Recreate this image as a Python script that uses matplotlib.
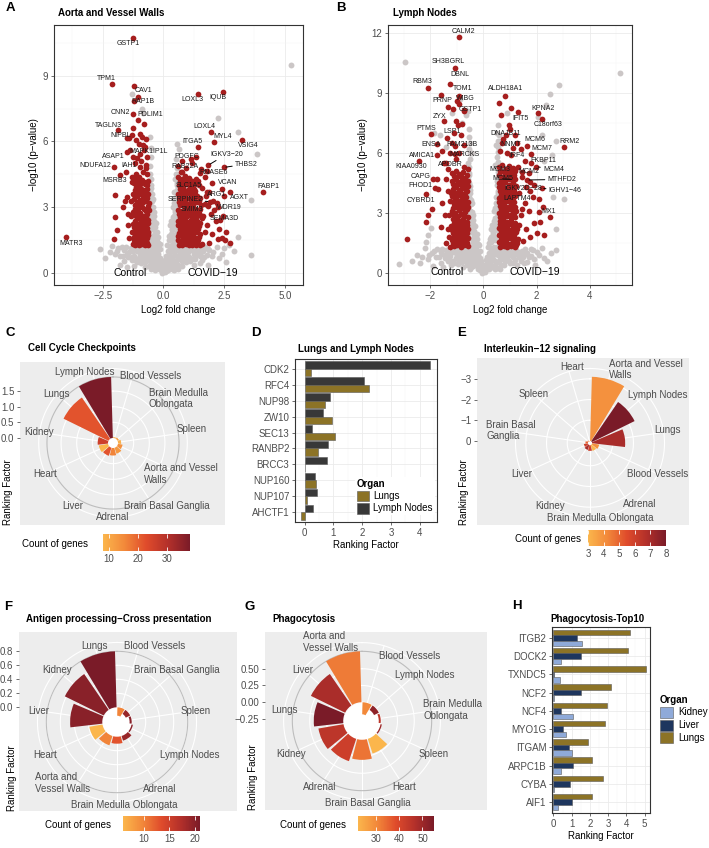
import numpy as np
import matplotlib
matplotlib.use('Agg')
import matplotlib.pyplot as plt
from matplotlib.colors import LinearSegmentedColormap, Normalize
from matplotlib.cm import ScalarMappable
from matplotlib.patches import Patch
from matplotlib.ticker import MultipleLocator
from matplotlib.transforms import ScaledTranslation

plt.rcParams['font.family'] = ['Liberation Sans', 'DejaVu Sans']

# ---------------------------------------------------------------- data
# Panel A: Aorta and Vessel Walls volcano
a_genes = ['GSTP1', 'TPM1', 'CAV1', 'RAP1B', 'CNN2', 'PDLIM1', 'TAGLN3', 'NIPBL', 'MAPK1IP1L', 'ASAP1',
           'NDUFA12', 'IAH1', 'MSRB3', 'MATR3', 'LOXL3', 'IQUB', 'LOXL4', 'MYL4', 'VSIG4', 'ITGA5',
           'PDGFC', 'IGKV3−20', 'THBS2', 'RAB22A', 'RNASE6', 'SLC1A5', 'VCAN', 'FABP1', 'ARG1', 'AGXT',
           'SERPINE2', 'WDR19', 'SMIM3', 'SEMA3D']
a_gene_fc = [-1.23, -2.11, -1.21, -1.03, -1.23, -1.03, -1.85, -1.51, -0.75, -1.51,
             -2.05, -1.53, -1.78, -4.0, 1.44, 2.47, 1.95, 2.08, 3.22, 1.44,
             1.16, 1.85, 2.49, 0.75, 1.51, 0.75, 2.40, 4.11, 1.78, 2.74,
             1.92, 2.26, 1.35, 2.33]
a_gene_p = [10.71, 8.62, 8.52, 8.03, 7.27, 7.0, 6.52, 6.14, 5.75, 5.53,
            4.82, 4.62, 4.47, 1.64, 8.18, 8.26, 6.44, 5.98, 6.09, 5.76,
            5.2, 4.92, 4.82, 4.62, 4.58, 3.94, 3.83, 3.71, 3.71, 3.71,
            3.26, 3.03, 2.75, 2.42]
a_sig = [(-1.22, 4.1), (-1.1, 4.2), (-0.95, 4.05), (-0.8, 4.15), (-0.68, 4.0),
         (-1.18, 3.8), (-1.05, 3.7), (-0.9, 3.85), (-0.75, 3.75), (-0.63, 3.6),
         (-1.2, 3.4), (-1.08, 3.5), (-0.98, 3.35), (-0.85, 3.45), (-0.7, 3.3),
         (-1.15, 3.1), (-1.02, 3.0), (-0.92, 3.15), (-0.78, 2.95), (-0.65, 3.05),
         (-1.23, 2.8), (-1.1, 2.7), (-0.96, 2.75), (-0.83, 2.6), (-0.69, 2.7),
         (-1.17, 2.4), (-1.04, 2.5), (-0.9, 2.35), (-0.76, 2.45), (-0.62, 2.3),
         (-1.2, 2.1), (-1.07, 2.0), (-0.94, 2.15), (-0.8, 1.95), (-0.67, 2.05),
         (-1.14, 1.8), (-1.0, 1.7), (-0.87, 1.85), (-0.73, 1.65), (-0.64, 1.75),
         (-1.22, 1.5), (-1.09, 1.4), (-0.97, 1.55), (-0.84, 1.35), (-0.7, 1.45),
         (-1.16, 1.3), (-1.02, 1.28), (-0.9, 1.32), (-0.77, 1.3), (-0.63, 1.3),
         (-1.3, 4.4), (-1.12, 4.5), (-0.85, 4.6), (-0.72, 4.8), (-1.0, 4.4), (-0.66, 4.5),
         (-1.28, 1.9), (-1.35, 2.6), (-1.32, 3.3), (-1.4, 1.6), (-1.45, 2.2),
         (-1.16, 4.3), (-1.03, 4.1), (-0.88, 4.25), (-0.74, 4.05), (-0.61, 4.2),
         (-1.12, 3.95), (-0.98, 3.9), (-0.83, 3.8), (-0.69, 3.85),
         (-1.25, 3.6), (-1.13, 3.6), (-0.93, 3.6), (-0.78, 3.55), (-0.66, 3.45),
         (-1.1, 3.25), (-0.96, 3.2), (-0.82, 3.25), (-0.6, 3.2),
         (-1.18, 2.95), (-1.05, 2.85), (-0.88, 3.0), (-0.73, 2.85), (-0.6, 2.9),
         (-1.14, 2.6), (-1.0, 2.6), (-0.86, 2.5), (-0.72, 2.55), (-0.65, 2.45),
         (-1.24, 2.25), (-1.1, 2.25), (-0.97, 2.3), (-0.84, 2.2), (-0.7, 2.2),
         (-1.17, 1.95), (-1.04, 1.85), (-0.9, 2.0), (-0.77, 1.8), (-0.61, 1.9),
         (-1.19, 1.65), (-1.05, 1.55), (-0.92, 1.7), (-0.79, 1.5), (-0.66, 1.6),
         (-1.12, 1.4), (-0.95, 1.42), (-0.81, 1.45), (-0.68, 1.38), (-1.25, 1.35),
         (-1.26, 6.6), (-0.96, 6.36), (-0.78, 6.8), (-1.3, 6.29), (-1.12, 6.06), (-1.4, 6.15),
         (-1.0, 5.9), (-0.96, 5.45), (-1.07, 5.25), (-1.25, 5.3), (-1.16, 5.0), (-0.96, 4.85),
         (-1.3, 4.17), (-1.99, 3.56), (-1.5, 3.48), (-1.56, 3.3), (-1.64, 3.03), (-1.99, 2.58),
         (-1.92, 1.97), (-2.01, 1.55), (-1.45, 2.7), (-0.8, 5.6), (-0.68, 5.3), (-0.88, 6.2),
         (-0.72, 6.1), (-0.9, 5.1), (-0.7, 4.95), (-1.38, 5.6), (-1.2, 7.85), (-0.85, 5.85),
         (0.62, 4.4), (0.75, 4.3), (0.9, 4.45), (1.05, 4.35), (1.2, 4.2), (1.35, 4.3),
         (0.65, 4.0), (0.8, 3.9), (0.95, 4.05), (1.1, 3.95), (1.25, 3.85), (1.45, 4.0),
         (0.6, 3.6), (0.72, 3.7), (0.88, 3.55), (1.02, 3.65), (1.18, 3.5), (1.32, 3.6), (1.5, 3.45),
         (0.66, 3.25), (0.8, 3.3), (0.93, 3.15), (1.08, 3.2), (1.22, 3.1), (1.38, 3.25), (1.55, 3.1),
         (0.62, 2.9), (0.76, 2.85), (0.9, 2.95), (1.04, 2.8), (1.18, 2.9), (1.3, 2.75), (1.45, 2.85),
         (0.68, 2.55), (0.82, 2.5), (0.97, 2.6), (1.12, 2.45), (1.26, 2.55), (1.4, 2.4), (1.58, 2.5),
         (0.61, 2.2), (0.74, 2.15), (0.88, 2.25), (1.02, 2.1), (1.16, 2.2), (1.3, 2.05), (1.48, 2.15),
         (0.65, 1.85), (0.79, 1.9), (0.94, 1.8), (1.08, 1.85), (1.22, 1.75), (1.36, 1.9), (1.52, 1.8),
         (0.6, 1.5), (0.73, 1.45), (0.87, 1.55), (1.0, 1.4), (1.14, 1.5), (1.28, 1.42), (1.44, 1.5),
         (0.64, 1.3), (0.78, 1.3), (0.92, 1.32), (1.06, 1.28), (1.2, 1.3), (1.34, 1.3), (1.5, 1.3),
         (0.68, 4.2), (0.82, 4.1), (0.98, 4.25), (1.12, 4.1), (1.28, 4.05), (1.42, 4.2),
         (0.7, 3.85), (0.85, 3.75), (1.0, 3.8), (1.15, 3.7), (1.3, 3.75), (1.4, 3.5),
         (0.64, 3.45), (0.78, 3.5), (0.95, 3.4), (1.1, 3.45), (1.25, 3.35), (1.46, 3.3),
         (0.7, 3.1), (0.86, 3.05), (1.0, 3.0), (1.15, 3.05), (1.3, 2.95), (1.5, 2.95),
         (0.66, 2.7), (0.8, 2.72), (0.95, 2.8), (1.1, 2.65), (1.24, 2.7), (1.38, 2.6), (1.52, 2.65),
         (0.62, 2.4), (0.77, 2.35), (0.92, 2.4), (1.06, 2.3), (1.2, 2.38), (1.35, 2.25), (1.5, 2.3),
         (0.69, 2.0), (0.84, 2.05), (0.99, 1.95), (1.13, 2.0), (1.27, 1.95), (1.42, 2.0),
         (0.62, 1.68), (0.76, 1.7), (0.9, 1.65), (1.05, 1.6), (1.18, 1.65), (1.32, 1.6), (1.47, 1.65),
         (0.68, 1.4), (0.83, 1.4), (0.96, 1.45), (1.1, 1.38), (1.24, 1.4), (1.38, 1.45),
         (0.62, 4.9), (0.75, 5.1), (0.95, 4.8), (0.72, 4.6), (1.7, 4.4), (1.6, 3.9), (1.75, 3.5),
         (1.9, 3.7), (2.05, 3.3), (1.85, 3.05), (2.2, 3.2), (1.95, 2.7), (2.15, 2.4), (2.3, 2.0),
         (1.8, 2.2), (1.7, 1.9), (2.0, 1.8), (2.4, 1.6), (2.55, 1.5), (2.75, 1.4), (2.25, 1.55),
         (1.9, 1.4), (1.65, 2.6), (1.72, 3.15), (2.1, 2.9), (2.45, 2.6), (2.6, 1.9), (1.6, 1.35),
         (1.78, 4.65), (1.2, 5.0), (1.35, 5.3), (2.5, 3.5), (2.0, 4.1), (1.55, 4.75)]
a_gray = [(-0.05, 0.02), (0.05, 0.05), (-0.1, 0.15), (0.12, 0.12), (-0.2, 0.3), (0.2, 0.25), (-0.3, 0.4),
          (0.3, 0.45), (-0.15, 0.5), (0.15, 0.55), (-0.4, 0.6), (0.4, 0.6), (-0.25, 0.7), (0.28, 0.8),
          (-0.5, 0.8), (0.5, 0.85), (-0.35, 0.95), (0.38, 1.0), (-0.6, 1.0), (0.62, 1.05), (-0.45, 1.1),
          (0.48, 1.15), (-0.7, 1.2), (0.72, 1.2), (-0.8, 0.9), (0.85, 0.95), (-0.9, 1.1), (0.95, 1.1),
          (-1.0, 0.7), (1.05, 0.75), (-1.1, 1.0), (1.15, 1.05), (-1.2, 0.8), (1.25, 0.9), (-1.35, 1.15),
          (1.4, 1.1), (-1.5, 0.9), (1.55, 0.95), (-1.7, 1.2), (1.7, 1.2), (-1.9, 1.0), (1.9, 1.05),
          (-0.75, 0.5), (0.78, 0.55), (-0.6, 0.35), (0.62, 0.4), (-0.5, 0.2), (0.5, 0.25), (-1.3, 0.6),
          (1.3, 0.65), (2.2, 1.2), (2.4, 0.9), (-2.1, 1.25), (3.63, 0.83), (2.0, 0.8), (-1.6, 0.55),
          (1.6, 0.6), (-0.9, 0.45), (0.95, 0.5), (-0.35, 0.15), (0.35, 0.2), (-0.2, 1.4), (0.22, 1.5),
          (-0.3, 1.7), (0.3, 1.8), (-0.35, 2.1), (0.36, 2.0), (-0.4, 2.4), (0.42, 2.3), (-0.45, 2.7),
          (0.45, 2.6), (-0.5, 3.0), (0.5, 2.9), (-0.48, 3.3), (0.52, 3.2), (-0.55, 3.6), (0.55, 3.5),
          (-0.52, 3.9), (0.56, 3.8), (-0.57, 4.2), (0.58, 4.1), (-0.55, 4.5), (0.55, 4.4), (-0.56, 4.9),
          (0.57, 4.8), (-0.5, 5.3), (0.53, 5.2), (-0.25, 1.9), (0.27, 2.2), (-0.38, 2.8), (0.4, 3.0),
          (-0.44, 3.4), (0.46, 3.7), (-0.5, 4.0), (0.5, 4.3), (-0.4, 1.5), (0.42, 1.6), (-0.5, 2.0),
          (0.5, 2.1), (-0.55, 2.5), (0.55, 2.5), (-0.58, 1.8), (0.58, 1.9), (-0.58, 3.0), (0.58, 3.0),
          (-0.52, 5.7), (0.55, 5.9), (0.64, 5.68), (5.27, 9.47), (2.26, 7.09), (3.08, 6.44),
          (3.84, 5.42), (3.63, 3.33), (3.08, 1.67), (-1.3, 8.14), (-0.89, 7.5), (-0.55, 6.2),
          (2.7, 1.3), (2.9, 1.0), (-0.85, 7.3), (-2.4, 0.7), (2.6, 0.5), (-1.8, 0.4), (1.85, 0.4),
          (-0.08, 0.3), (0.08, 0.35), (-0.18, 0.45), (0.18, 0.4), (-0.25, 0.55), (0.25, 0.6),
          (-0.35, 0.75), (0.35, 0.7), (-0.45, 0.9), (0.45, 0.95), (-0.55, 1.1), (0.55, 1.05),
          (-0.65, 1.25), (0.65, 1.25), (-0.2, 0.9), (0.2, 1.0), (-0.3, 1.2), (0.3, 1.25), (-0.15, 1.1),
          (0.12, 0.8), (-0.1, 0.6), (0.1, 0.65), (-0.4, 0.35), (0.42, 0.35), (-0.55, 0.55), (0.58, 0.6),
          (-0.7, 0.75), (0.72, 0.8), (-0.85, 0.7), (0.88, 0.75), (-0.95, 0.9), (1.0, 0.95), (-1.05, 1.2),
          (1.1, 1.22), (-0.75, 1.0), (0.8, 1.05), (-0.65, 0.6), (0.68, 0.7), (-1.15, 0.6), (1.2, 0.65),
          (-1.25, 1.0), (1.3, 1.05), (-1.45, 0.75), (1.5, 0.8), (-1.6, 1.05), (1.65, 1.0), (-1.8, 0.8),
          (1.8, 0.85), (-0.28, 1.45), (0.3, 1.55), (-0.35, 1.9), (0.36, 1.95), (-0.42, 2.2),
          (0.43, 2.15), (-0.47, 2.5), (0.48, 2.45), (-0.5, 2.75), (0.5, 2.8), (-0.53, 3.15),
          (0.54, 3.1), (-0.56, 3.45), (0.56, 3.35), (-0.55, 3.75), (0.57, 3.65), (-0.58, 4.05),
          (0.55, 4.0), (-0.45, 1.7), (0.45, 1.75), (-0.52, 2.25), (0.52, 2.3), (-0.56, 2.75),
          (0.56, 2.7), (-0.35, 1.45), (0.36, 1.3), (-0.47, 1.35), (0.5, 1.4), (-0.58, 1.5),
          (0.58, 1.55), (-0.58, 2.2), (0.58, 2.25),
          (-0.02, 0.2), (0.03, 0.12), (-0.07, 0.4), (0.07, 0.45), (-0.12, 0.7), (0.14, 0.72),
          (-0.22, 0.6), (0.23, 0.5), (-0.28, 0.95), (0.26, 1.1), (-0.33, 0.55), (0.33, 0.3),
          (-0.38, 1.3), (0.4, 1.35), (-0.48, 0.5), (0.47, 0.45), (-0.52, 1.25), (0.53, 1.3),
          (-0.62, 0.85), (0.63, 0.8), (-0.68, 1.05), (0.7, 1.0), (-0.78, 0.75), (0.8, 0.8),
          (-0.88, 1.2), (0.9, 1.2), (-0.92, 0.6), (0.93, 0.65), (-1.0, 1.05), (1.02, 1.0),
          (-1.08, 0.5), (1.1, 0.55), (-1.18, 1.15), (1.2, 1.2), (-1.28, 0.75), (1.32, 0.8),
          (-1.4, 0.95), (1.42, 0.9), (-1.52, 1.2), (1.55, 1.2), (-1.65, 0.8), (1.68, 0.75),
          (-1.85, 1.15), (1.85, 1.1), (-2.0, 0.9), (2.05, 0.95), (-0.15, 1.35), (0.17, 1.3),
          (-0.22, 1.65), (0.24, 1.7), (-0.3, 2.3), (0.32, 2.4), (-0.4, 2.6), (0.38, 2.55),
          (-0.42, 3.0), (0.44, 3.2), (-0.47, 3.6), (0.48, 3.45), (-0.5, 4.3), (0.52, 4.5),
          (-0.3, 1.1), (0.28, 0.95), (-0.18, 0.2), (0.2, 0.15), (-0.6, 0.7), (0.6, 0.2),
          (-0.75, 0.3), (0.75, 0.35), (-1.2, 0.35), (1.25, 0.4), (-1.5, 0.3), (1.5, 0.45),
          (-0.45, 0.3), (0.44, 0.15), (-0.85, 1.0), (0.86, 1.15), (-0.97, 0.8), (0.98, 0.85),
          (-0.7, 0.9), (0.68, 0.9), (2.3, 0.7), (-2.2, 0.95), (2.5, 1.15), (-2.6, 1.1)]

# Panel B: Lymph Nodes volcano
b_genes = ['CALM2', 'SH3BGRL', 'DBNL', 'RBM3', 'TOM1', 'PRNP', 'WIBG', 'GSTP1', 'ZYX', 'PTMS',
           'LSP1', 'ENSA', 'FAM213B', 'AMICA1', 'MARCKS', 'KIAA0930', 'APOBR', 'CAPG', 'FHOD1', 'CYBRD1',
           'ALDH18A1', 'KPNA2', 'IFIT5', 'C18orf63', 'DNAJB11', 'RRM2', 'MCM6', 'NNMT', 'MCM7', 'IRF4',
           'FKBP11', 'MCM3', 'MCM2', 'MCM4', 'MCM5', 'MTHFD2', 'IGKV2D−28', 'IGHV1−46', 'LAPTM4', 'MX1']
b_gene_fc = [-0.92, -1.09, -1.26, -2.11, -0.92, -1.61, -0.92, -0.73, -1.47, -1.97,
             -1.38, -1.74, -1.07, -1.76, -1.07, -2.45, -1.41, -1.91, -1.82, -2.16,
             0.82, 2.05, 1.32, 2.20, 0.75, 3.02, 1.64, 1.13, 1.80, 1.04,
             1.81, 0.94, 1.45, 1.99, 1.13, 1.64, 1.76, 2.20, 1.74, 2.08]
b_gene_p = [11.79, 10.25, 9.45, 9.25, 8.83, 8.88, 8.46, 8.16, 7.58, 6.94,
            6.77, 6.44, 6.37, 5.90, 5.94, 5.59, 5.48, 4.70, 4.23, 3.93,
            8.83, 7.99, 8.03, 7.69, 6.71, 6.32, 6.37, 6.27, 5.94, 5.90,
            5.48, 5.15, 5.07, 5.32, 4.68, 4.65, 4.57, 4.23, 4.10, 3.06]
b_sig = [(-1.18, 5.0), (-1.05, 5.1), (-0.92, 4.95), (-0.78, 5.05), (-0.64, 4.9),
         (-1.2, 4.6), (-1.08, 4.7), (-0.95, 4.55), (-0.82, 4.65), (-0.68, 4.5), (-0.58, 4.6),
         (-1.15, 4.2), (-1.02, 4.3), (-0.88, 4.15), (-0.75, 4.25), (-0.62, 4.1),
         (-1.19, 3.85), (-1.06, 3.75), (-0.93, 3.9), (-0.8, 3.7), (-0.66, 3.8),
         (-1.13, 3.45), (-1.0, 3.5), (-0.86, 3.35), (-0.72, 3.45), (-0.6, 3.3),
         (-1.2, 3.1), (-1.07, 3.0), (-0.94, 3.15), (-0.81, 2.95), (-0.68, 3.05),
         (-1.16, 2.7), (-1.03, 2.75), (-0.9, 2.6), (-0.77, 2.7), (-0.63, 2.55),
         (-1.21, 2.35), (-1.09, 2.3), (-0.96, 2.4), (-0.83, 2.25), (-0.7, 2.35), (-0.59, 2.2),
         (-1.14, 2.0), (-1.01, 1.95), (-0.87, 2.05), (-0.74, 1.9), (-0.61, 2.0),
         (-1.18, 1.65), (-1.05, 1.7), (-0.92, 1.6), (-0.79, 1.7), (-0.66, 1.6),
         (-1.12, 1.35), (-0.99, 1.4), (-0.86, 1.32), (-0.73, 1.38), (-0.6, 1.33),
         (-1.12, 4.85), (-0.98, 4.8), (-0.85, 4.85), (-0.71, 4.75), (-0.6, 5.2),
         (-1.14, 4.45), (-1.0, 4.45), (-0.86, 4.4), (-0.72, 4.35), (-0.6, 4.35),
         (-1.08, 4.0), (-0.95, 4.05), (-0.82, 3.95), (-0.69, 4.0), (-1.22, 4.0),
         (-1.12, 3.6), (-0.98, 3.65), (-0.84, 3.55), (-0.7, 3.6), (-0.58, 3.55),
         (-1.16, 3.25), (-1.02, 3.3), (-0.88, 3.2), (-0.76, 3.25), (-0.63, 3.2),
         (-1.1, 2.9), (-0.97, 2.85), (-0.85, 2.95), (-0.72, 2.85), (-0.6, 2.8),
         (-1.12, 2.5), (-0.99, 2.55), (-0.86, 2.45), (-0.74, 2.5), (-0.62, 2.4),
         (-1.17, 2.15), (-1.04, 2.15), (-0.91, 2.2), (-0.78, 2.1), (-0.66, 2.15),
         (-1.1, 1.8), (-0.96, 1.82), (-0.83, 1.85), (-0.7, 1.78), (-0.58, 1.75),
         (-1.16, 1.5), (-1.02, 1.52), (-0.89, 1.48), (-0.76, 1.52), (-0.63, 1.48),
         (-1.3, 2.9), (-1.35, 2.2), (-1.28, 3.6), (-1.4, 1.5), (-1.32, 4.1), (-1.25, 1.3),
         (-2.89, 1.72), (-2.16, 2.56), (-1.95, 3.18), (-1.7, 4.2), (-1.55, 3.5), (-1.45, 2.9),
         (-1.6, 2.3), (-1.3, 1.8), (-1.4, 4.7), (-1.35, 5.2), (-1.5, 5.5), (-1.25, 6.0),
         (-1.2, 6.5), (-1.1, 7.0), (-1.05, 7.6), (-0.95, 7.4), (-0.8, 7.45), (-0.85, 6.9),
         (-0.75, 6.4), (-0.92, 6.0), (-1.05, 5.7), (-0.75, 5.3), (-1.15, 8.2), (-0.72, 8.1),
         (-1.35, 8.3), (-1.55, 6.1), (-1.0, 8.6), (-1.75, 4.7), (-2.1, 2.9),
         (0.58, 5.3), (0.7, 5.4), (0.85, 5.2), (0.98, 5.35), (1.12, 5.25),
         (0.6, 4.9), (0.74, 4.8), (0.88, 4.95), (1.02, 4.85), (1.16, 4.9),
         (0.57, 4.5), (0.69, 4.45), (0.83, 4.55), (0.97, 4.4), (1.1, 4.5), (1.22, 4.35),
         (0.62, 4.1), (0.76, 4.15), (0.9, 4.0), (1.04, 4.1), (1.18, 4.0),
         (0.58, 3.75), (0.71, 3.7), (0.85, 3.8), (0.99, 3.65), (1.13, 3.75),
         (0.63, 3.35), (0.77, 3.4), (0.91, 3.3), (1.05, 3.4), (1.2, 3.3),
         (0.59, 3.0), (0.72, 2.95), (0.86, 3.05), (1.0, 2.9), (1.14, 3.0),
         (0.61, 2.6), (0.75, 2.65), (0.89, 2.55), (1.03, 2.6), (1.17, 2.5),
         (0.57, 2.25), (0.7, 2.2), (0.84, 2.3), (0.98, 2.15), (1.12, 2.25), (1.25, 2.2),
         (0.6, 1.9), (0.74, 1.85), (0.88, 1.95), (1.02, 1.8), (1.16, 1.9),
         (0.58, 1.55), (0.72, 1.5), (0.86, 1.6), (1.0, 1.45), (1.14, 1.55), (1.28, 1.5),
         (0.62, 1.32), (0.76, 1.35), (0.9, 1.3), (1.04, 1.33), (1.18, 1.3),
         (0.64, 5.1), (0.78, 5.05), (0.92, 5.1), (1.06, 5.05), (1.18, 5.1),
         (0.66, 4.65), (0.8, 4.68), (0.95, 4.7), (1.08, 4.65), (1.2, 4.7),
         (0.6, 4.3), (0.74, 4.3), (0.88, 4.25), (1.02, 4.3), (1.15, 4.2),
         (0.65, 3.9), (0.8, 3.95), (0.94, 3.88), (1.08, 3.9), (1.2, 3.85),
         (0.6, 3.55), (0.74, 3.55), (0.88, 3.6), (1.02, 3.5), (1.16, 3.55),
         (0.66, 3.2), (0.8, 3.15), (0.94, 3.2), (1.08, 3.15), (1.22, 3.1),
         (0.62, 2.8), (0.76, 2.8), (0.9, 2.85), (1.04, 2.75), (1.18, 2.8),
         (0.64, 2.45), (0.78, 2.42), (0.92, 2.4), (1.06, 2.45), (1.2, 2.4),
         (0.65, 2.08), (0.8, 2.05), (0.94, 2.1), (1.08, 2.02), (1.22, 2.05),
         (0.66, 1.72), (0.8, 1.7), (0.94, 1.75), (1.08, 1.68), (1.22, 1.72),
         (0.68, 1.45), (0.82, 1.45), (0.96, 1.42), (1.1, 1.45), (1.24, 1.4),
         (0.65, 7.9), (0.6, 8.5), (1.05, 8.25), (0.95, 7.4), (0.85, 6.9), (0.7, 6.5),
         (0.62, 6.1), (0.9, 6.0), (1.25, 6.5), (1.4, 6.2), (1.55, 5.6), (1.3, 5.3),
         (1.7, 5.0), (1.45, 4.8), (1.9, 4.4), (1.6, 4.3), (1.35, 4.0), (1.85, 3.8),
         (2.14, 2.56), (2.52, 2.81), (2.24, 3.31), (1.76, 1.81), (1.6, 2.2), (1.4, 2.9),
         (1.9, 2.5), (1.7, 3.1), (2.0, 2.0), (1.5, 1.6), (2.3, 1.9), (1.55, 3.5),
         (2.1, 3.7), (1.2, 6.9), (1.0, 7.2), (1.35, 2.4), (1.3, 1.7), (1.45, 3.2)]
b_gray = [(-0.05, 0.02), (0.05, 0.05), (-0.12, 0.15), (0.12, 0.18), (-0.2, 0.3), (0.22, 0.3),
          (-0.32, 0.45), (0.3, 0.42), (-0.15, 0.55), (0.18, 0.6), (-0.42, 0.65), (0.42, 0.62),
          (-0.28, 0.8), (0.3, 0.85), (-0.52, 0.85), (0.55, 0.9), (-0.38, 1.0), (0.4, 1.05),
          (-0.65, 1.0), (0.66, 1.05), (-0.48, 1.15), (0.5, 1.2), (-0.75, 1.2), (0.78, 1.2),
          (-0.85, 0.95), (0.9, 0.95), (-0.95, 1.1), (1.0, 1.1), (-1.05, 0.75), (1.1, 0.8),
          (-1.15, 1.05), (1.2, 1.0), (-1.25, 0.85), (1.3, 0.9), (-1.4, 1.15), (1.45, 1.12),
          (-1.55, 0.95), (1.6, 0.95), (-1.75, 1.2), (1.8, 1.2), (-1.95, 1.0), (2.0, 1.05),
          (-0.8, 0.55), (0.82, 0.6), (-0.62, 0.38), (0.65, 0.4), (-0.5, 0.22), (0.5, 0.25),
          (-1.35, 0.6), (1.4, 0.6), (-2.2, 1.25), (2.2, 1.25), (-2.5, 0.9), (2.74, 1.14),
          (-3.17, 0.47), (-2.1, 0.7), (1.9, 0.7), (-1.6, 0.5), (1.65, 0.55), (-0.95, 0.45),
          (1.0, 0.5), (-0.2, 1.45), (0.22, 1.5), (-0.3, 1.75), (0.3, 1.8), (-0.36, 2.1),
          (0.36, 2.05), (-0.4, 2.45), (0.42, 2.4), (-0.45, 2.8), (0.45, 2.75), (-0.5, 3.1),
          (0.5, 3.05), (-0.48, 3.45), (0.52, 3.4), (-0.54, 3.8), (0.54, 3.75), (-0.52, 4.15),
          (0.56, 4.1), (-0.56, 4.5), (0.57, 4.45), (-0.54, 4.9), (0.55, 4.85), (-0.56, 5.3),
          (0.56, 5.25), (-0.5, 5.7), (0.52, 5.8), (-0.55, 6.2), (0.55, 6.3), (-0.53, 6.8),
          (0.5, 7.0), (-0.25, 1.95), (0.27, 2.2), (-0.38, 2.9), (0.4, 3.1), (-0.44, 3.5),
          (0.46, 3.8), (-0.5, 4.0), (0.5, 4.4), (-0.4, 1.55), (0.42, 1.65), (-0.5, 2.05),
          (0.5, 2.15), (-0.55, 2.5), (0.55, 2.55), (-0.57, 1.8), (0.57, 1.9), (-0.57, 3.0),
          (0.57, 3.0), (-0.57, 8.1), (-0.66, 7.9), (0.6, 6.9), (0.48, 6.4), (-0.45, 6.0),
          (0.45, 5.4), (-2.96, 10.54), (5.13, 10.0), (2.86, 9.41), (2.49, 8.95), (2.35, 8.41),
          (2.64, 3.81), (3.04, 3.68), (2.74, 2.22), (2.6, 5.9), (2.75, 6.6), (2.05, 7.8),
          (-2.16, 1.56), (-1.99, 2.26), (-2.1, 1.9), (-1.65, 6.9), (-1.4, 6.3), (-1.2, 8.0),
          (-0.9, 8.7), (-0.8, 7.5), (0.9, 8.0), (-1.85, 7.0), (2.3, 5.6), (2.2, 6.9),
          (-2.4, 0.5), (2.4, 0.6), (-1.9, 0.35), (1.95, 0.4),
          (-0.08, 0.3), (0.08, 0.35), (-0.18, 0.45), (0.18, 0.4), (-0.25, 0.55), (0.25, 0.6),
          (-0.35, 0.75), (0.35, 0.7), (-0.45, 0.9), (0.45, 0.95), (-0.55, 1.1), (0.55, 1.05),
          (-0.65, 1.25), (0.65, 1.25), (-0.2, 0.9), (0.2, 1.0), (-0.3, 1.2), (0.3, 1.25),
          (-0.15, 1.1), (0.12, 0.8), (-0.1, 0.6), (0.1, 0.65), (-0.4, 0.35), (0.42, 0.35),
          (-0.55, 0.55), (0.58, 0.6), (-0.7, 0.75), (0.72, 0.8), (-0.85, 0.7), (0.88, 0.75),
          (-0.95, 0.9), (1.0, 0.95), (-1.05, 1.2), (1.1, 1.22), (-0.75, 1.0), (0.8, 1.05),
          (-0.65, 0.6), (0.68, 0.7), (-1.15, 0.6), (1.2, 0.65), (-1.25, 1.0), (1.3, 1.05),
          (-1.45, 0.75), (1.5, 0.8), (-1.6, 1.05), (1.65, 1.0), (-1.8, 0.8), (1.8, 0.85),
          (-0.28, 1.45), (0.3, 1.55), (-0.35, 1.9), (0.36, 1.95), (-0.42, 2.2), (0.43, 2.15),
          (-0.47, 2.5), (0.48, 2.45), (-0.5, 2.75), (0.5, 2.8), (-0.53, 3.15), (0.54, 3.1),
          (-0.56, 3.45), (0.56, 3.35), (-0.55, 3.75), (0.57, 3.65), (-0.58, 4.05), (0.55, 4.0),
          (-0.45, 1.7), (0.45, 1.75), (-0.52, 2.25), (0.52, 2.3), (-0.56, 2.75), (0.56, 2.7),
          (-0.57, 4.7), (0.57, 4.6), (-0.55, 5.0), (0.56, 5.05), (-0.57, 5.5), (0.55, 5.55),
          (-0.5, 6.0), (0.55, 6.05), (-0.52, 6.5), (0.56, 6.6), (-0.56, 7.2), (0.55, 7.4),
          (-0.03, 0.22), (0.02, 0.1), (-0.08, 0.45), (0.06, 0.4), (-0.13, 0.75), (0.15, 0.7),
          (-0.23, 0.62), (0.22, 0.52), (-0.27, 1.0), (0.27, 1.08), (-0.34, 0.5), (0.34, 0.32),
          (-0.4, 1.35), (0.41, 1.3), (-0.47, 0.52), (0.48, 0.48), (-0.53, 1.28), (0.52, 1.32),
          (-0.63, 0.82), (0.62, 0.78), (-0.7, 1.08), (0.69, 1.02), (-0.79, 0.72), (0.81, 0.78),
          (-0.9, 1.18), (0.92, 1.22), (-0.94, 0.62), (0.95, 0.62), (-1.02, 1.02), (1.03, 1.05),
          (-1.1, 0.52), (1.12, 0.5), (-1.2, 1.18), (1.22, 1.15), (-1.3, 0.72), (1.33, 0.78),
          (-1.42, 0.92), (1.44, 0.95), (-1.55, 1.22), (1.57, 1.18), (-1.68, 0.78), (1.7, 0.8),
          (-1.88, 1.12), (1.88, 1.15), (-2.05, 0.92), (2.1, 0.9), (-0.16, 1.38), (0.18, 1.32),
          (-0.23, 1.7), (0.25, 1.68), (-0.31, 2.35), (0.33, 2.38), (-0.41, 2.65), (0.39, 2.6),
          (-0.43, 3.05), (0.45, 3.25), (-0.48, 3.65), (0.49, 3.5), (-0.5, 4.35), (0.52, 4.6),
          (-0.31, 1.12), (0.29, 0.98), (-0.19, 0.22), (0.21, 0.18), (-0.61, 0.72), (0.61, 0.22),
          (-0.76, 0.32), (0.76, 0.38), (-1.22, 0.38), (1.26, 0.42), (-1.52, 0.32), (1.52, 0.48),
          (-0.46, 0.32), (0.45, 0.18), (-0.86, 1.02), (0.87, 1.12), (-0.98, 0.82), (0.99, 0.88),
          (-0.71, 0.92), (0.69, 0.92), (-2.3, 0.8), (2.3, 0.75), (-2.7, 0.6), (2.55, 1.0)]

# Panels C, E, F, G: ranking factor by organ (count of genes)
c_organs = ['Blood Vessels', 'Brain Medulla\nOblongata', 'Spleen', 'Aorta and Vessel\nWalls',
            'Brain Basal Ganglia', 'Adrenal', 'Liver', 'Heart', 'Kidney', 'Lungs', 'Lymph Nodes']
c_rank = [0.03, 0.05, 0.10, 0.15, 0.20, 0.24, 0.27, 0.30, 0.33, 1.60, 1.95]
c_count = [10, 12, 9, 14, 13, 16, 22, 8, 26, 22, 38]

e_organs = ['Aorta and Vessel\nWalls', 'Lymph Nodes', 'Lungs', 'Blood Vessels', 'Adrenal',
            'Brain Medulla Oblongata', 'Kidney', 'Liver', 'Brain Basal\nGanglia', 'Spleen', 'Heart']
e_rank = [-3.1, -2.3, -1.6, -0.35, -0.3, -0.28, -0.25, -0.2, -0.12, -0.05, 0.02]
e_count = [4, 8, 7, 4, 3, 6, 7, 6, 5, 5, 4]

f_organs = ['Blood Vessels', 'Brain Basal Ganglia', 'Spleen', 'Lymph Nodes', 'Adrenal',
            'Brain Medulla Oblongata', 'Aorta and\nVessel Walls', 'Heart', 'Liver', 'Kidney', 'Lungs']
f_rank = [-0.12, -0.07, -0.03, 0.02, 0.07, 0.10, 0.14, 0.19, 0.46, 0.62, 0.80]
f_count = [10, 19, 20, 20, 19, 13, 10, 6, 20, 20, 21]

g_organs = ['Blood Vessels', 'Lymph Nodes', 'Brain Medulla\nOblongata', 'Spleen', 'Heart',
            'Brain Basal Ganglia', 'Adrenal', 'Kidney', 'Lungs', 'Liver', 'Aorta and\nVessel Walls']
g_rank = [-0.18, -0.08, -0.03, 0.02, 0.23, 0.30, 0.35, 0.38, 0.44, 0.57, 0.76]
g_count = [30, 52, 45, 50, 22, 33, 42, 45, 55, 48, 32]

# Panel D
d_genes = ['CDK2', 'RFC4', 'NUP98', 'ZW10', 'SEC13', 'RANBP2', 'BRCC3', 'NUP160', 'NUP107', 'AHCTF1']
d_lymph = [4.37, 2.07, 0.89, 0.63, 0.25, 0.81, 0.78, 0.37, 0.45, 0.31]
d_lungs = [0.22, 2.25, 0.72, 0.97, 1.07, 0.46, 0.03, 0.41, 0.09, -0.12]

# Panel H
h_genes = ['ITGB2', 'DOCK2', 'TXNDC5', 'NCF2', 'NCF4', 'MYO1G', 'ITGAM', 'ARPC1B', 'CYBA', 'AIF1']
h_lungs = [4.2, 4.07, 5.09, 3.18, 2.96, 2.82, 1.88, 2.14, 2.73, 2.11]
h_liver = [1.3, 1.52, 0.03, 1.52, 0.41, 0.5, 0.86, 1.07, 0.89, 1.04]
h_kidney = [1.55, 0.41, 0.36, 0.02, 1.1, 0.71, 1.04, 0.41, 0.01, 0.27]

# ---------------------------------------------------------------- style
W, H = 709, 848
RED = '#A61E1E'
GRAY = '#CBC6C6'
TXT = '#4D4D4D'
PANEL = '#EDEDED'
LUNG = '#8C7326'
LYMPH = '#383838'
LIVER = '#1E365E'
KIDNEY = '#8FAAD9'
cmap = LinearSegmentedColormap.from_list('cnt', ['#FBB64C', '#F2883A', '#DF4B2B', '#B3302A', '#7A1B28'])

fig = plt.figure(figsize=(W / 100, H / 100), dpi=100)


def box(x0, y0, x1, y1):
    return [x0 / W, 1 - y1 / H, (x1 - x0) / W, (y1 - y0) / H]


def fx(x):
    return x / W


def fy(y):
    return 1 - y / H


def style_box(ax):
    for s in ax.spines.values():
        s.set_color('#333333')
        s.set_linewidth(0.8)
    ax.tick_params(axis='both', which='major', length=2.5, width=0.5, color='#333333',
                   labelsize=7, labelcolor=TXT, pad=1.5)
    ax.tick_params(axis='both', which='minor', length=0)
    ax.set_axisbelow(True)


def volcano(bx, gray, sig, genes, gfc, gp, labpos, lined, xlim, ylim, xstep, ystep, ctrl_x, covid_x):
    ax = fig.add_axes(box(*bx))
    gx, gy = zip(*gray)
    sx, sy = zip(*sig)
    ax.scatter(gx, gy, s=18, color=GRAY, lw=0, zorder=2)
    ax.scatter(sx, sy, s=17, color=RED, lw=0, zorder=3)
    ax.scatter(gfc, gp, s=17, color=RED, lw=0, zorder=3)
    for name, x, y, (tx, ty) in zip(genes, gfc, gp, labpos):
        ap = dict(arrowstyle='-', color='black', lw=0.7, shrinkA=0, shrinkB=1.5) if name in lined else None
        ax.annotate(name, (x, y), xytext=(tx, ty), ha='center', va='center', fontsize=5,
                    color='#1a1a1a', arrowprops=ap, zorder=5)
    ax.set_xlim(xlim)
    ax.set_ylim(ylim)
    ax.xaxis.set_major_locator(MultipleLocator(xstep))
    ax.xaxis.set_minor_locator(MultipleLocator(xstep / 2))
    ax.yaxis.set_major_locator(MultipleLocator(ystep))
    ax.yaxis.set_minor_locator(MultipleLocator(ystep / 2))
    ax.grid(which='major', color='#EBEBEB', lw=0.6)
    ax.grid(which='minor', color='#F4F4F4', lw=0.35)
    style_box(ax)
    ax.text(ctrl_x, 0.03, 'Control', ha='center', va='center', fontsize=7.5, zorder=6)
    ax.text(covid_x, 0.03, 'COVID−19', ha='center', va='center', fontsize=7.5, zorder=6)
    ax.set_xlabel('Log2 fold change', fontsize=7, labelpad=3)
    ax.set_ylabel('−log10 (p−value)', fontsize=7, labelpad=3)
    return ax


def polar_panel(bgbox, cx, cy, ppu, v0, sgn, ticks, fmt, organs, rank, count, gray_ring,
                cbbox, cbticks, cblab_xy, rf_x, nudge):
    x0, y0, x1, y1 = bgbox
    bg = fig.add_axes(box(*bgbox))
    bg.set_facecolor(PANEL)
    for s in bg.spines.values():
        s.set_visible(False)
    bg.set_xticks([])
    bg.set_ylim(v0 + sgn * (cy - y1) / ppu, v0 + sgn * (cy - y0) / ppu)
    bg.set_yticks(ticks)
    bg.set_yticklabels([fmt.format(t).replace('-', '−') for t in ticks])
    bg.tick_params(axis='y', length=2.5, width=0.5, color='#333333', labelsize=7,
                   labelcolor=TXT, pad=1.5)
    fig.text(fx(rf_x), fy(y1), 'Ranking Factor', rotation=90, ha='center', va='bottom', fontsize=7)

    order = np.argsort(rank)
    org = [organs[i] for i in order]
    vals = np.array(rank)[order]
    cnts = np.array(count)[order]
    n = len(org)
    theta = 2 * np.pi * (np.arange(n) + 0.5) / n
    vmax = vals[-1] if sgn > 0 else vals[0]
    rmax_px = abs(vmax - v0) * ppu
    lab_px = 1.125 * rmax_px
    R = lab_px + 4
    pax = fig.add_axes(box(cx - R, cy - R, cx + R, cy + R), projection='polar')
    pax.set_theta_zero_location('N')
    pax.set_theta_direction(-1)
    pax.set_ylim(v0, v0 + sgn * R / ppu)
    pax.axis('off')
    tf = np.linspace(0, 2 * np.pi, 361)
    rl = v0 + sgn * lab_px / ppu
    if sgn * (0 - v0) > 0:
        pax.fill_between(tf, v0, 0, color='white', lw=0, zorder=1)
    for t in ticks:
        pax.plot(tf, np.full_like(tf, t), color='white', lw=0.8, zorder=1.2)
    pax.plot(tf, np.full_like(tf, rl), color='white', lw=0.8, zorder=1.2)
    for th in theta:
        pax.plot([th, th], [v0, rl], color='white', lw=0.8, zorder=1.2)
    if gray_ring:
        pax.plot(tf, np.full_like(tf, vmax), color='#BDBDBD', lw=0.8, zorder=1.3)
    norm = Normalize(min(count), max(count))
    pax.bar(theta, vals, width=0.9 * 2 * np.pi / n, bottom=0, color=cmap(norm(cnts)), lw=0, zorder=3)
    for th, name in zip(theta, org):
        dx, dy = nudge.get(name, (0, 0))
        tr = pax.transData + ScaledTranslation(dx / 100, -dy / 100, fig.dpi_scale_trans)
        pax.text(th, rl, name, ha='center', va='center', multialignment='left', fontsize=7,
                 color=TXT, clip_on=False, zorder=4, transform=tr)

    cax = fig.add_axes(box(*cbbox))
    cb = fig.colorbar(ScalarMappable(norm=norm, cmap=cmap), cax=cax, orientation='horizontal')
    cb.outline.set_visible(False)
    cb.set_ticks(cbticks)
    cax.minorticks_off()
    cax.tick_params(which='both', direction='in', color='white', length=3, width=0.6, labelsize=7,
                    labelcolor=TXT, pad=2.5, top=True, bottom=True, labeltop=False)
    fig.text(fx(cblab_xy[0]), fy(cblab_xy[1]), 'Count of genes', ha='left', va='center', fontsize=7)


def bar_panel(bx, genes, series, colors, xlim, xticks):
    ax = fig.add_axes(box(*bx))
    n = len(genes)
    k = len(series)
    ypos = np.arange(n)[::-1]
    hgt = 0.9 / k
    for j, (vals, col) in enumerate(zip(series, colors)):
        off = (k - 1) / 2 * hgt - j * hgt
        ax.barh(ypos + off, vals, height=hgt, color=col, edgecolor='#5a5a5a', lw=0.4, zorder=3)
    ax.set_yticks(ypos)
    ax.set_yticklabels(genes)
    ax.set_ylim(-0.6, n - 0.4)
    ax.set_xlim(xlim)
    ax.set_xticks(xticks)
    ax.xaxis.set_minor_locator(MultipleLocator(0.5))
    ax.grid(axis='x', which='major', color='#EBEBEB', lw=0.6)
    ax.grid(axis='x', which='minor', color='#F4F4F4', lw=0.35)
    ax.grid(axis='y', which='major', color='#EBEBEB', lw=0.6)
    style_box(ax)
    ax.set_xlabel('Ranking Factor', fontsize=7, labelpad=2)
    return ax


# ---------------------------------------------------------------- panels
a_labpos = [(-1.44, 10.45), (-2.33, 8.86), (-0.82, 8.3), (-0.82, 7.8), (-1.75, 7.32), (-0.55, 7.23),
            (-2.26, 6.74), (-1.74, 6.29), (-0.62, 5.53), (-2.05, 5.33), (-2.81, 4.89), (-1.4, 4.89),
            (-1.99, 4.21), (-3.81, 1.36), (1.21, 7.92), (2.23, 8.0), (1.71, 6.7), (2.44, 6.24),
            (3.49, 5.83), (1.21, 6.02), (0.96, 5.3), (2.6, 5.42), (3.42, 4.97), (0.89, 4.88),
            (2.05, 4.58), (1.03, 3.98), (2.67, 4.12), (4.32, 3.94), (2.19, 3.61), (3.12, 3.45),
            (0.89, 3.36), (2.71, 3.0), (1.16, 2.91), (2.49, 2.5)]
volcano((54, 25, 303, 285), a_gray, a_sig, a_genes, a_gene_fc, a_gene_p, a_labpos,
        {'IGKV3−20', 'THBS2', 'SERPINE2'}, (-4.5, 5.75), (-0.53, 11.3), 2.5, 3, -1.37, 2.05)

b_labpos = [(-0.75, 12.06), (-1.32, 10.59), (-0.88, 9.92), (-2.29, 9.58), (-0.78, 9.2), (-1.57, 8.61),
            (-0.69, 8.75), (-0.5, 8.16), (-1.66, 7.83), (-2.16, 7.21), (-1.19, 7.07), (-1.98, 6.4),
            (-0.82, 6.45), (-2.33, 5.87), (-0.73, 5.9), (-2.73, 5.32), (-1.26, 5.43), (-2.39, 4.82),
            (-2.39, 4.36), (-2.35, 3.61), (0.84, 9.2), (2.26, 8.24), (1.38, 7.74), (2.45, 7.41),
            (0.84, 6.99), (3.23, 6.57), (1.95, 6.69), (1.04, 6.44), (2.2, 6.24), (1.26, 5.89),
            (2.26, 5.65), (0.6, 5.18), (1.7, 5.07), (2.64, 5.18), (0.72, 4.7), (2.96, 4.68),
            (1.51, 4.23), (3.08, 4.15), (1.26, 3.73), (2.45, 3.09)]
volcano((388, 25, 632, 285), b_gray, b_sig, b_genes, b_gene_fc, b_gene_p, b_labpos,
        {'MCM4', 'MCM5', 'MTHFD2', 'IGHV1−46', 'LAPTM4'}, (-3.6, 5.6), (-0.6, 12.4), 2, 3, -1.38, 1.95)

c_nudge = {'Lymph Nodes': (-7, 0), 'Blood Vessels': (17, 4), 'Brain Medulla\nOblongata': (9, 4),
           'Spleen': (5, -3), 'Brain Basal Ganglia': (14, 0)}
e_nudge = {'Aorta and Vessel\nWalls': (35, -2), 'Lymph Nodes': (11, 1), 'Lungs': (4, -2), 'Adrenal': (9, -2),
           'Brain Medulla Oblongata': (10, 0), 'Brain Basal\nGanglia': (-5, -2), 'Heart': (3, -4)}
f_nudge = {'Blood Vessels': (15, 0), 'Brain Medulla Oblongata': (7, 3), 'Aorta and\nVessel Walls': (-11, -6)}
g_nudge = {'Aorta and\nVessel Walls': (-9, -4), 'Blood Vessels': (26, 10), 'Lymph Nodes': (4, 5),
           'Brain Medulla\nOblongata': (13, 0), 'Brain Basal Ganglia': (6, 4)}

polar_panel((20, 362, 225, 525), 113, 443, 31.3, -0.16, 1, [0, 0.5, 1.0, 1.5], '{:.1f}',
            c_organs, c_rank, c_count, True, (103, 534, 190, 551), [10, 20, 30], (22, 544), 8, c_nudge)
polar_panel((477, 358, 689, 525), 590, 443, 20.7, 0.1, -1, [-3, -2, -1, 0], '{:d}',
            e_organs, e_rank, e_count, False, (588, 530, 666, 546), [3, 4, 5, 6, 7, 8], (515, 539), 464,
            e_nudge)
polar_panel((19, 632, 237, 811), 117, 722, 70, -0.21, 1, [0, 0.2, 0.4, 0.6, 0.8], '{:.1f}',
            f_organs, f_rank, f_count, True, (123, 816, 200, 831), [10, 15, 20], (45, 825), 12, f_nudge)
polar_panel((265, 632, 487, 810), 362, 721, 67, -0.28, 1, [-0.25, 0, 0.25, 0.5], '{:.2f}',
            g_organs, g_rank, g_count, True, (358, 816, 434, 831), [30, 40, 50], (280, 825), 253, g_nudge)

axd = bar_panel((295, 359, 437, 522), d_genes, [d_lymph, d_lungs], [LYMPH, LUNG], (-0.33, 4.6), [0, 1, 2, 3, 4])
hd = [Patch(facecolor=LUNG, edgecolor='#5a5a5a', lw=0.4, label='Lungs'),
      Patch(facecolor=LYMPH, edgecolor='#5a5a5a', lw=0.4, label='Lymph Nodes')]
axd.legend(handles=hd, title='Organ', loc='lower left', bbox_to_anchor=(0.42, 0.04), fontsize=7,
           title_fontproperties={'weight': 'bold', 'size': 7}, frameon=True, facecolor='white',
           edgecolor='none', framealpha=1, handlelength=1.3, handleheight=1.3, handletextpad=0.4,
           labelspacing=0.15, borderpad=0.2, borderaxespad=0, alignment='left')

axh = bar_panel((552, 627, 650, 813), h_genes, [h_lungs, h_liver, h_kidney], [LUNG, LIVER, KIDNEY],
                (-0.08, 5.3), [0, 1, 2, 3, 4, 5])
hh = [Patch(facecolor=KIDNEY, edgecolor='#5a5a5a', lw=0.4, label='Kidney'),
      Patch(facecolor=LIVER, edgecolor='#5a5a5a', lw=0.4, label='Liver'),
      Patch(facecolor=LUNG, edgecolor='#5a5a5a', lw=0.4, label='Lungs')]
fig.legend(handles=hh, title='Organ', loc='upper left', bbox_to_anchor=(fx(653), fy(688)), fontsize=7,
           title_fontproperties={'weight': 'bold', 'size': 7}, frameon=False, handlelength=1.35,
           handleheight=1.35, handletextpad=0.5, labelspacing=0.2, borderpad=0.2, alignment='left')

# titles and panel letters
titles = [('Aorta and Vessel Walls', 58, 13), ('Lymph Nodes', 393, 13), ('Cell Cycle Checkpoints', 28, 348),
          ('Lungs and Lymph Nodes', 298, 349), ('Interleukin−12 signaling', 484, 349),
          ('Antigen processing−Cross presentation', 26, 619), ('Phagocytosis', 272, 619),
          ('Phagocytosis-Top10', 550, 619)]
for t, x, y in titles:
    fig.text(fx(x), fy(y), t, ha='left', va='center', fontsize=7, fontweight='bold')
letters = [('A', 10, 8), ('B', 341, 8), ('C', 10, 333), ('D', 256, 333), ('E', 462, 333),
           ('F', 8, 607), ('G', 250, 607), ('H', 517, 606)]
for t, x, y in letters:
    fig.text(fx(x), fy(y), t, ha='center', va='center', fontsize=9.5, fontweight='bold')

fig.savefig('out.png', dpi=100, facecolor='white')
